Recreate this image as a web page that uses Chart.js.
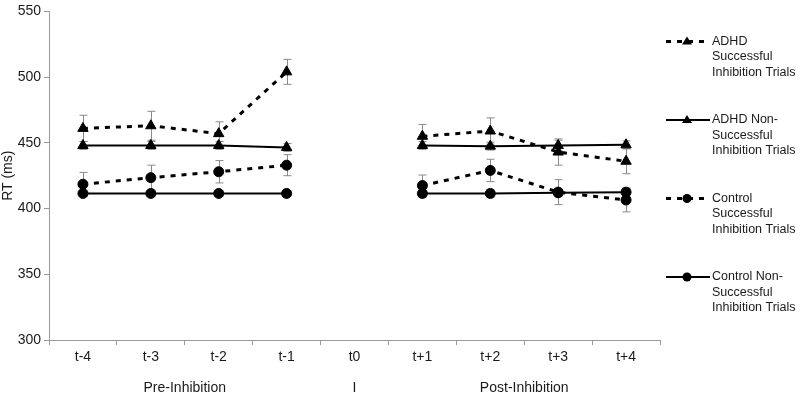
<!DOCTYPE html>
<html>
<head>
<meta charset="utf-8">
<script src="https://cdn.jsdelivr.net/npm/chart.js@4"></script>
<style>
  html, body { margin: 0; padding: 0; background: #fff; }
  #wrap { width: 800px; height: 400px; position: relative; }
</style>
</head>
<body>
<div id="wrap"><canvas id="c"></canvas></div>
<script>
// ---- data ----
const categories = ['t-4', 't-3', 't-2', 't-1', 't0', 't+1', 't+2', 't+3', 't+4'];

const adhdSuccess        = [461, 463, 457, 504, null, 455, 459, 443, 436];
const adhdSuccessErr     = [10, 11, 9, 9.5, null, 9, 10, 10, 9.5];
const adhdNonSuccess     = [448, 448, 448, 446.5, null, 448, 447.5, 448, 448.5];
const adhdNonSuccessErr  = [3, 3, 3, 3, null, 3, 3, 4, 3];
const controlSuccess     = [418.5, 423.5, 428, 433, null, 417.5, 429, 412.5, 406.5];
const controlSuccessErr  = [9, 9.5, 8.5, 8, null, 8, 8.5, 9.5, 9];
const controlNonSuccess  = [411.5, 411.5, 411.5, 411.5, null, 411.5, 411.5, 412, 412.5];
const controlNonSuccessErr = [2.5, 2.5, 2, 2, null, 3, 3, 3, 3];

const seriesLabels = [
  ['ADHD', 'Successful', 'Inhibition Trials'],
  ['ADHD Non-', 'Successful', 'Inhibition Trials'],
  ['Control', 'Successful', 'Inhibition Trials'],
  ['Control Non-', 'Successful', 'Inhibition Trials']
];

const yTicks = [300, 350, 400, 450, 500, 550];
const yTitle = 'RT (ms)';

const groupLabels = ['Pre-Inhibition', 'I', 'Post-Inhibition'];
const groupFirst  = [0, 4, 5];
const groupLast   = [3, 4, 8];

// ---- styling ----
const FONT = "'Liberation Sans', Arial, sans-serif";
const TEXT = '#1a1a1a';
const AXIS = '#9a9a9a';
const DASH = [5, 6];

function ds(label, data, err, dashed, style) {
  return {
    label: label.join(' '),
    legendLines: label,
    data: data,
    errors: err,
    borderColor: '#000',
    backgroundColor: '#000',
    borderWidth: dashed ? 3 : 2,
    borderDash: dashed ? DASH : [],
    pointStyle: style,
    pointRadius: style === 'triangle' ? 6 : 5,
    pointBorderWidth: 1,
    pointBackgroundColor: '#000',
    pointBorderColor: '#000',
    spanGaps: false,
    tension: 0,
    fill: false
  };
}

const errorBars = {
  id: 'errorBars',
  beforeDatasetsDraw(chart) {
    const ctx = chart.ctx;
    const y = chart.scales.y, x = chart.scales.x;
    ctx.save();
    ctx.strokeStyle = '#8a8a8a';
    ctx.lineWidth = 1;
    chart.data.datasets.forEach(d => {
      d.data.forEach((v, i) => {
        const e = d.errors[i];
        if (v == null || e == null) return;
        const px = Math.round(x.getPixelForValue(i)) + 0.5;
        const top = y.getPixelForValue(v + e);
        const bot = y.getPixelForValue(v - e);
        ctx.beginPath();
        ctx.moveTo(px, top); ctx.lineTo(px, bot);
        ctx.moveTo(px - 4, top); ctx.lineTo(px + 4, top);
        ctx.moveTo(px - 4, bot); ctx.lineTo(px + 4, bot);
        ctx.stroke();
      });
    });
    ctx.restore();
  }
};

function drawMarker(ctx, style, r, cx, cy) {
  ctx.beginPath();
  if (style === 'triangle') {
    const h = r * 1.6;
    ctx.moveTo(cx, cy - h * 0.62);
    ctx.lineTo(cx + r, cy + h * 0.38);
    ctx.lineTo(cx - r, cy + h * 0.38);
    ctx.closePath();
  } else {
    ctx.arc(cx, cy, r, 0, Math.PI * 2);
  }
  ctx.fill();
}

const extras = {
  id: 'extras',
  afterDraw(chart) {
    const ctx = chart.ctx;
    const area = chart.chartArea;
    const x = chart.scales.x;
    ctx.save();
    // group labels under the axis
    ctx.fillStyle = TEXT;
    ctx.font = '14px ' + FONT;
    ctx.textAlign = 'center';
    ctx.textBaseline = 'middle';
    groupLabels.forEach((g, k) => {
      const px = x.getPixelForValue((groupFirst[k] + groupLast[k]) / 2);
      ctx.fillText(g, px, area.bottom + 48);
    });
    // legend
    const lx0 = area.right + 6, lx1 = area.right + 50, mx = area.right + 27, tx = area.right + 52;
    const step = area.height * 0.239;
    chart.data.datasets.forEach((d, k) => {
      const cy = area.top + 30 + k * step;
      ctx.strokeStyle = '#000';
      ctx.lineWidth = d.borderWidth;
      ctx.setLineDash(d.borderDash);
      ctx.beginPath();
      ctx.moveTo(lx0, cy); ctx.lineTo(lx1, cy);
      ctx.stroke();
      ctx.setLineDash([]);
      ctx.fillStyle = '#000';
      drawMarker(ctx, d.pointStyle, d.pointStyle === 'triangle' ? 5 : 4.5, mx, cy);
      ctx.fillStyle = TEXT;
      ctx.font = '12.5px ' + FONT;
      ctx.textAlign = 'left';
      ctx.textBaseline = 'middle';
      d.legendLines.forEach((t, j) => ctx.fillText(t, tx, cy + j * 15.5));
    });
    ctx.restore();
  }
};

new Chart(document.getElementById('c'), {
  type: 'line',
  data: {
    labels: categories,
    datasets: [
      ds(seriesLabels[0], adhdSuccess, adhdSuccessErr, true, 'triangle'),
      ds(seriesLabels[1], adhdNonSuccess, adhdNonSuccessErr, false, 'triangle'),
      ds(seriesLabels[2], controlSuccess, controlSuccessErr, true, 'circle'),
      ds(seriesLabels[3], controlNonSuccess, controlNonSuccessErr, false, 'circle')
    ]
  },
  options: {
    responsive: true,
    maintainAspectRatio: false,
    animation: false,
    events: [],
    layout: { padding: { top: 10, right: 140, left: 0, bottom: 0 } },
    plugins: { legend: { display: false }, tooltip: { enabled: false } },
    scales: {
      x: {
        type: 'category',
        offset: true,
        afterFit: s => { s.height = 60; },
        grid: { offset: true, drawOnChartArea: false, color: AXIS, tickLength: 5 },
        border: { color: AXIS, width: 1 },
        ticks: { color: TEXT, font: { family: FONT, size: 14 }, padding: 4, maxRotation: 0, autoSkip: false }
      },
      y: {
        min: 300, max: 550,
        afterFit: s => { s.width = 49; },
        afterBuildTicks: s => { s.ticks = yTicks.map(v => ({ value: v })); },
        grid: { drawOnChartArea: false, color: AXIS, tickLength: 5 },
        border: { color: AXIS, width: 1 },
        ticks: { color: TEXT, font: { family: FONT, size: 14 }, padding: 3 },
        title: { display: true, text: yTitle, color: TEXT, font: { family: FONT, size: 14 }, padding: { top: 0, bottom: 0 } }
      }
    }
  },
  plugins: [errorBars, extras]
});
</script>
</body>
</html>
